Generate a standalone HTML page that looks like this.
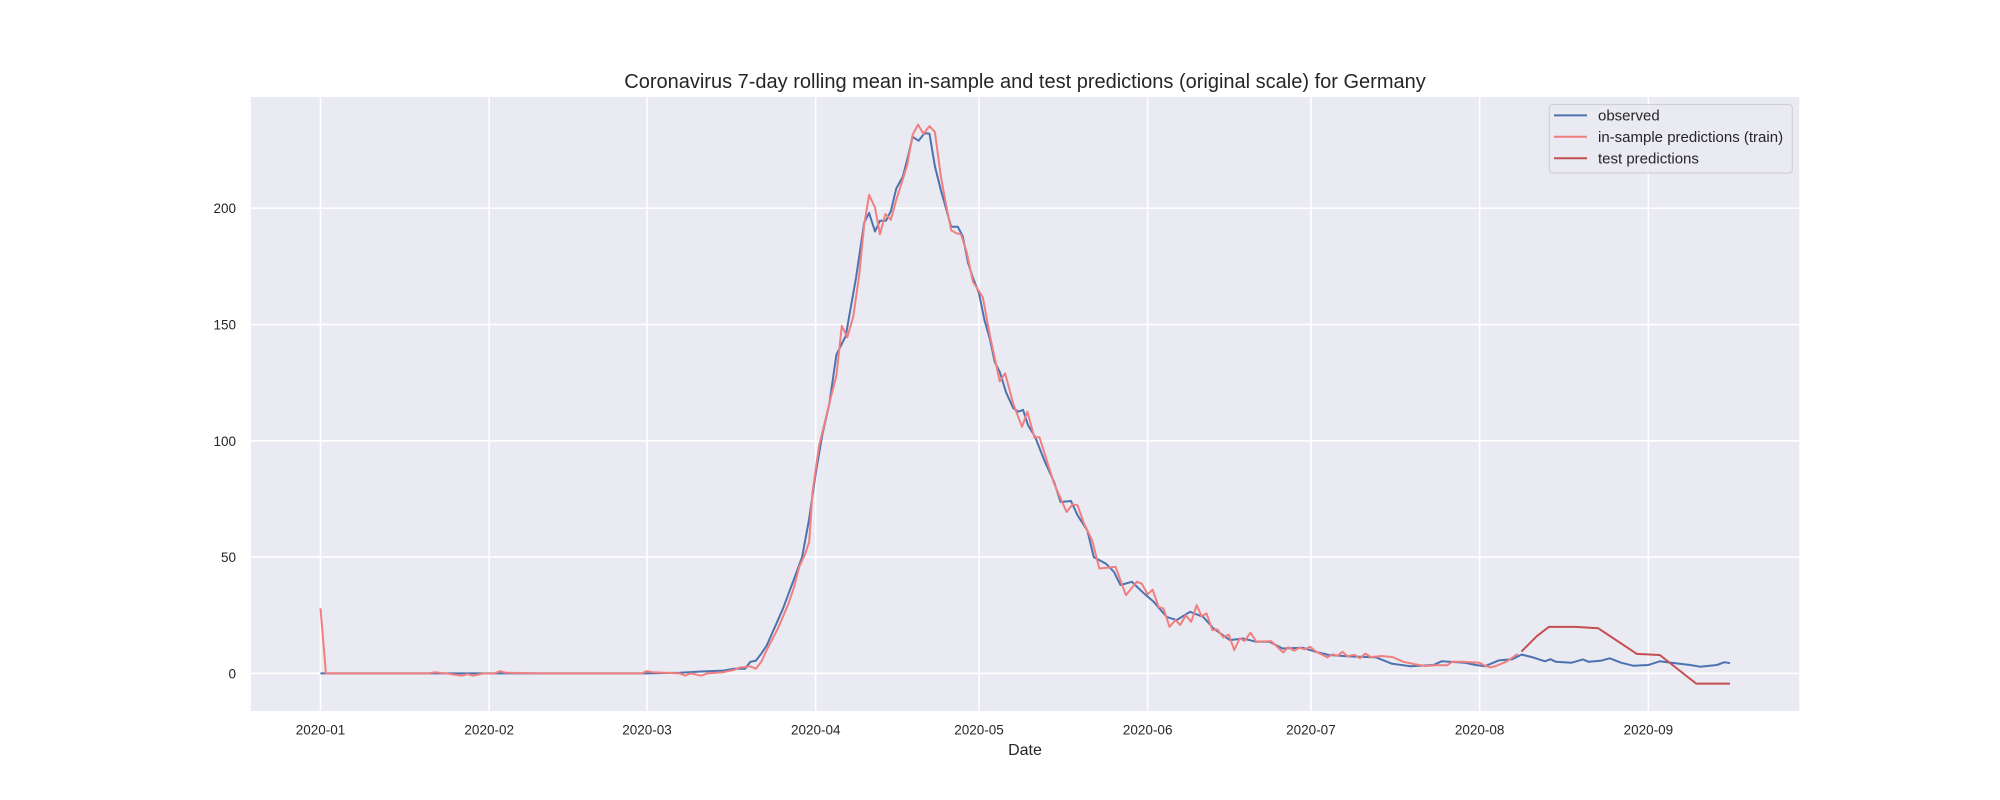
<!DOCTYPE html>
<html><head><meta charset="utf-8"><title>Coronavirus Germany predictions</title>
<style>
html,body{margin:0;padding:0;background:#fff;}
svg{display:block;font-family:"Liberation Sans",Arial,sans-serif;}
</style></head>
<body>
<svg id="chart" width="2000" height="800" viewBox="0 0 2000 800" xmlns="http://www.w3.org/2000/svg">
<rect x="250.9" y="97" width="1548.3" height="614" fill="#EAEAF2"/>
<g id="grid"></g>
<g id="series"></g>
<g id="ticks"></g>
<text x="1025" y="88" text-anchor="middle" font-size="20" fill="#262626">Coronavirus 7-day rolling mean in-sample and test predictions (original scale) for Germany</text>
<text x="1025" y="755" text-anchor="middle" font-size="16" fill="#262626">Date</text>
<g>
<rect x="1549.3" y="104.6" width="243" height="68.4" rx="3" fill="#EAEAF2" fill-opacity="0.8" stroke="#cccccc" stroke-width="1"/>
<line x1="1554" y1="115.4" x2="1587" y2="115.4" stroke="#4C72B0" stroke-width="2"/>
<text x="1598" y="120.6" font-size="15" fill="#262626">observed</text>
<line x1="1554" y1="136.8" x2="1587" y2="136.8" stroke="#F08080" stroke-width="2"/>
<text x="1598" y="142" font-size="15" fill="#262626">in-sample predictions (train)</text>
<line x1="1554" y1="158.2" x2="1587" y2="158.2" stroke="#C44E52" stroke-width="2"/>
<text x="1598" y="163.4" font-size="15" fill="#262626">test predictions</text>
</g>
</svg>
<script>
const yTicks = [0, 50, 100, 150, 200];
const monthDays = [0, 31, 60, 91, 121, 152, 182, 213, 244];
const monthLabels = ["2020-01","2020-02","2020-03","2020-04","2020-05","2020-06","2020-07","2020-08","2020-09"];
const obsDays = [0,60,66,70,74,76,78,79,80,81,82,83.6,85,86.7,88.5,89.8,91,92.2,93.5,94.8,96.5,98.4,99.9,100.8,101.9,102.8,103.9,104.8,105.8,107,107.9,108.8,109.9,111,111.9,112.9,114,115,115.9,117.1,118,119,119.9,121,122,123,123.9,124.8,126,127.3,128.2,129.1,130,131.3,133,134.8,136,137.9,139.1,140.9,142.1,144.3,145.8,147,149.1,151.3,153.1,155.5,157.3,159.8,162.2,164.1,167.1,169.5,172,174.4,176.8,180.5,182.9,185.3,189,194,196.8,200.3,204.5,206,210.2,212.3,214,216.5,219,220.7,222.8,225,226,227,229.9,232,233,235.2,236.9,239,241.2,244,246.1,248.2,251.7,253.5,256.6,258,259];
const obsVals = [0,0,0.3,0.8,1.2,2,2,5,5.5,8.5,12,20.5,28,38.6,50,66.5,86,102.6,115.8,137,145,170,193.8,198,190,194.6,194.6,198.7,208.5,213.5,221.7,230.7,229,232.3,232,218,207.7,199.5,192,192,188,176.5,170,163.4,152,143.7,133.8,129.7,120.7,114,112.5,113.3,106.7,101.8,91.6,82.3,73.7,74.1,68,61.5,50,47.2,43.7,38,39.4,34.4,30.8,24.3,22.9,26.5,24.3,19.3,14.3,15,13.6,13.6,10.7,11,9.3,7.9,7.3,6.9,4.2,3.1,3.6,5.2,4.6,3.6,3.1,5.6,6.1,8.1,6.9,5.2,6.1,5,4.6,6,5,5.4,6.5,4.6,3.3,3.6,5.2,4.6,3.6,2.9,3.6,4.8,4.4];
const trainDays = [0,1,20,21,23,26,27,28,30,32,33,34,40,59,60,61,66,67,68,70,71,74,76,77,79,80,81,82,84,86,87,88,89,89.8,90.4,91.6,93.8,94.8,95.8,96.8,97.9,99,99.9,100.8,101.9,102.8,103.8,104.8,105.8,107.8,108.8,109.8,110.8,111.9,112.9,114,115,115.9,116.8,117.7,118.7,119.9,121.7,123,124.8,125.8,127.3,128.9,129.9,131.2,132.1,134.8,137.1,138.2,139.1,140.3,141.8,143.1,146.1,148,150,150.9,152,152.9,154,154.9,156,157.1,158,159,160,161,161.9,162.8,163.9,164.8,165.9,166.9,167.9,168.9,169.8,170.9,172,174.7,176.9,177.8,178.9,179.9,180.9,181.8,183,185,186,186.9,187.8,188.7,190,191,192,193,195,197,199,201,203,205,207,208,210,213,214,215,216,218,220];
const trainVals = [28,0,0,0.5,0,-1,-0.3,-1,0,0,1,0.3,0,0,1,0.5,0,-1,0,-1,0,0.5,1.5,2.5,3,2,5,10,19,30,37,46,51,56.6,78,97.7,119,128,149.4,144.5,153.5,171.6,193,205.7,200.3,188.8,197.5,195,203.6,218.4,231.5,236,232,235.3,232.7,213.5,201,190.5,189.3,188.8,181.4,168.3,161.7,145.3,125.6,129,115.8,106,112.5,101.3,101.6,81.6,69.4,72.7,72.3,64.4,57.2,45.1,45.8,33.6,39.4,38.6,34,36,28.6,27.9,20,22.9,20.8,25,22.2,29.3,24.6,25.8,18.6,18.9,15.5,16.7,10,15,14,17.5,13.6,13.9,9,11.2,9.7,11,10.3,11.5,9.3,6.9,8.2,7.6,9.3,7.4,8,6.5,8.5,7,7.5,7,5,4,3.2,3.5,3.5,5,5,4.6,3.3,2.6,3.2,5.2,8.4];
const testDays = [220.7,223.5,225.7,230.6,234.8,241.9,246.1,252.8,259];
const testVals = [9.4,16,20,20,19.4,8.4,7.9,-4.4,-4.4];

const NS = "http://www.w3.org/2000/svg";
const X0 = 320.5, PXD = 5.442, Y0 = 673.4, PXV = 2.326;
function xScale(d){ return X0 + d * PXD; }
function yScale(v){ return Y0 - v * PXV; }
const grid = document.getElementById('grid');
const ticks = document.getElementById('ticks');
const series = document.getElementById('series');

yTicks.forEach(function(v){
  const l = document.createElementNS(NS,'line');
  l.setAttribute('x1',250.9); l.setAttribute('x2',1799.2);
  l.setAttribute('y1',yScale(v)); l.setAttribute('y2',yScale(v));
  l.setAttribute('stroke','#fff'); l.setAttribute('stroke-width','1.6');
  
  
  grid.appendChild(l);
  const t = document.createElementNS(NS,'text');
  t.setAttribute('x',236); t.setAttribute('y',yScale(v)+5);
  t.setAttribute('text-anchor','end'); t.setAttribute('font-size','13.5'); t.setAttribute('fill','#262626');
  t.textContent = v;
  
  
  ticks.appendChild(t);
});
monthDays.forEach(function(d,i){
  const l = document.createElementNS(NS,'line');
  l.setAttribute('x1',xScale(d)); l.setAttribute('x2',xScale(d));
  l.setAttribute('y1',97); l.setAttribute('y2',711);
  l.setAttribute('stroke','#fff'); l.setAttribute('stroke-width','1.6');
  
  
  grid.appendChild(l);
  const t = document.createElementNS(NS,'text');
  t.setAttribute('x',xScale(d)); t.setAttribute('y',734.5);
  t.setAttribute('text-anchor','middle'); t.setAttribute('font-size','13.5'); t.setAttribute('fill','#262626');
  t.textContent = monthLabels[i];
  
  
  ticks.appendChild(t);
});
function drawLine(days, vals, color, name){
  const p = document.createElementNS(NS,'polyline');
  p.setAttribute('points', days.map(function(d,i){ return xScale(d).toFixed(1)+','+yScale(vals[i]).toFixed(1); }).join(' '));
  p.setAttribute('fill','none'); p.setAttribute('stroke',color); p.setAttribute('stroke-width','2');
  p.setAttribute('stroke-linejoin','round');
  
  
  series.appendChild(p);
}
drawLine(obsDays, obsVals, '#4C72B0', 'observed-line');
drawLine(trainDays, trainVals, '#F08080', 'train-predictions-line');
drawLine(testDays, testVals, '#C44E52', 'test-predictions-line');
</script>
</body></html>
